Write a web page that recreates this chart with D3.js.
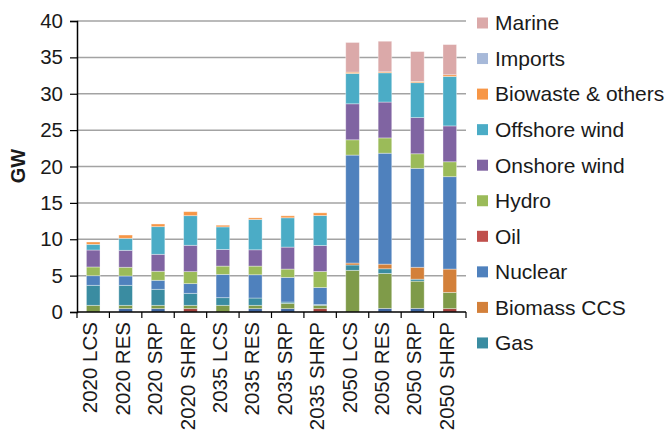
<!DOCTYPE html>
<html lang="en">
  <head>
    <meta charset="UTF-8" />
    <title>GW by scenario</title>
    <script src="https://cdn.jsdelivr.net/npm/d3@7"></script>
    <style>
      body { margin: 0; background: #fff; }
      svg { font-family: "Liberation Sans", Arial, sans-serif; }
    </style>
  </head>
  <body>
    <svg width="670" height="435"></svg>
    <script>
      const categories = ["2020 LCS", "2020 RES", "2020 SRP", "2020 SHRP", "2035 LCS", "2035 RES",
        "2035 SRP", "2035 SHRP", "2050 LCS", "2050 RES", "2050 SRP", "2050 SHRP"];

      // stacked bottom -> top
      const coalCCS = [0, 0, 0, 0.46, 0, 0, 0, 0.46, 0, 0, 0, 0.46];
      const coal = [0, 0.46, 0.46, 0, 0, 0.46, 0.46, 0, 0, 0.5, 0.5, 0];
      const gasCCS = [0.92, 0.46, 0.46, 0.46, 0.92, 0.46, 0.73, 0.46, 5.73, 4.8, 3.74, 2.24];
      const gas = [2.75, 2.75, 2.2, 1.65, 1.05, 1.0, 0.18, 0.1, 0.73, 0.64, 0.27, 0];
      const biomassCCS = [0, 0, 0, 0, 0, 0, 0, 0, 0.27, 0.64, 1.64, 3.2];
      const nuclear = [1.32, 1.28, 1.24, 1.33, 3.2, 3.2, 3.39, 2.35, 14.84, 15.25, 13.6, 12.7];
      const oil = [0, 0, 0, 0, 0, 0, 0, 0, 0, 0, 0, 0];
      const hydro = [1.2, 1.2, 1.24, 1.65, 1.14, 1.19, 1.14, 2.2, 2.1, 2.1, 2.0, 2.05];
      const onshoreWind = [2.33, 2.33, 2.33, 3.62, 2.29, 2.24, 3.02, 3.57, 4.95, 4.93, 4.97, 4.93];
      const offshoreWind = [0.78, 1.65, 3.8, 4.07, 3.1, 4.17, 4.03, 4.12, 4.17, 4.02, 4.8, 6.8];
      const biowaste = [0.32, 0.45, 0.37, 0.55, 0.23, 0.22, 0.27, 0.37, 0.18, 0.14, 0.18, 0.23];
      const imports = [0, 0, 0, 0, 0, 0, 0, 0, 0, 0, 0, 0];
      const marine = [0, 0, 0, 0, 0, 0, 0, 0, 4.08, 4.2, 4.1, 4.15];

      const yTicks = [0, 5, 10, 15, 20, 25, 30, 35, 40];

      const series = [
        { key: "Coal CCS", values: coalCCS, color: "#a03d3a", legend: false },
        { key: "Coal", values: coal, color: "#3c64a0", legend: false },
        { key: "Gas CCS", values: gasCCS, color: "#7f9b49", legend: false },
        { key: "Gas", values: gas, color: "#3a8ca1", legend: true },
        { key: "Biomass CCS", values: biomassCCS, color: "#d3803a", legend: true },
        { key: "Nuclear", values: nuclear, color: "#4f81bd", legend: true },
        { key: "Oil", values: oil, color: "#c0504d", legend: true },
        { key: "Hydro", values: hydro, color: "#9bbb59", legend: true },
        { key: "Onshore wind", values: onshoreWind, color: "#8064a2", legend: true },
        { key: "Offshore wind", values: offshoreWind, color: "#4bacc6", legend: true },
        { key: "Biowaste & others", values: biowaste, color: "#f79646", legend: true },
        { key: "Imports", values: imports, color: "#a7b9d9", legend: true },
        { key: "Marine", values: marine, color: "#dba9a9", legend: true },
      ];

      const rows = categories.map((c, i) => {
        const r = { cat: c };
        series.forEach((s) => (r[s.key] = s.values[i]));
        return r;
      });
      const stacked = d3.stack().keys(series.map((s) => s.key))(rows);

      const svg = d3.select("svg");
      const plotLeft = 77, plotRight = 466, plotTop = 21, plotBottom = 312;
      const fontSize = "20.5px";

      const x = d3.scaleBand().domain(categories).range([plotLeft, plotRight]);
      const y = d3.scaleLinear().domain([0, 40]).range([plotBottom, plotTop]);
      const barW = x.bandwidth() * 0.42;

      // gridlines
      svg.append("g")
        .selectAll("line")
        .data(yTicks.filter((t) => t > 0))
        .enter()
        .append("line")
        .attr("x1", plotLeft)
        .attr("x2", plotRight)
        .attr("y1", (d) => y(d))
        .attr("y2", (d) => y(d))
        .attr("stroke", "#a3a3a3")
        .attr("stroke-width", 1.5);

      // bars
      svg.append("g")
        .selectAll("g")
        .data(stacked)
        .enter()
        .append("g")
        .attr("fill", (d, i) => series[i].color)
        .selectAll("rect")
        .data((d) => d.filter((p) => p[1] - p[0] > 0))
        .enter()
        .append("rect")
        .attr("x", (d) => x(d.data.cat) + (x.bandwidth() - barW) / 2)
        .attr("width", barW)
        .attr("y", (d) => y(d[1]))
        .attr("height", (d) => y(d[0]) - y(d[1]))
        .attr("stroke", "rgba(255,255,255,0.45)")
        .attr("stroke-width", 0.8);

      // y axis
      const yAxis = svg.append("g")
        .attr("transform", `translate(${plotLeft},0)`)
        .call(d3.axisLeft(y).tickValues(yTicks).tickSize(7).tickPadding(7));
      yAxis.select(".domain").attr("stroke", "#000").attr("stroke-width", 1.5);
      yAxis.selectAll(".tick line").attr("stroke", "#000").attr("stroke-width", 1.2);
      yAxis.selectAll("text").attr("font-size", fontSize).attr("fill", "#1a1a1a")
        .attr("font-family", "Liberation Sans, Arial, sans-serif");

      // x axis
      svg.append("line")
        .attr("x1", plotLeft).attr("x2", plotRight)
        .attr("y1", plotBottom).attr("y2", plotBottom)
        .attr("stroke", "#000").attr("stroke-width", 1.5);
      svg.append("g")
        .selectAll("line")
        .data(categories.concat(["end"]))
        .enter()
        .append("line")
        .attr("x1", (d, i) => plotLeft + i * x.step())
        .attr("x2", (d, i) => plotLeft + i * x.step())
        .attr("y1", plotBottom)
        .attr("y2", plotBottom + 6)
        .attr("stroke", "#000")
        .attr("stroke-width", 1.2);
      svg.append("g")
        .selectAll("text")
        .data(categories)
        .enter()
        .append("text")
        .attr("transform", (d) => `translate(${x(d) + x.bandwidth() / 2},${plotBottom + 10}) rotate(-90)`)
        .attr("dy", "0.2em")
        .attr("text-anchor", "end")
        .attr("font-size", fontSize)
        .attr("fill", "#1a1a1a")
        .text((d) => d);

      // axis title
      svg.append("text")
        .attr("transform", `translate(18,166) rotate(-90)`)
        .attr("dy", "0.35em")
        .attr("text-anchor", "middle")
        .attr("font-size", "20px")
        .attr("font-weight", "bold")
        .attr("fill", "#1a1a1a")
        .text("GW");

      // legend (reversed, top = last series)
      const legendItems = series.filter((s) => s.legend).reverse();
      const lg = svg.append("g")
        .selectAll("g")
        .data(legendItems)
        .enter()
        .append("g")
        .attr("transform", (d, i) => `translate(477,${23 + i * 35.55})`);
      lg.append("rect")
        .attr("x", 0).attr("y", -5.5)
        .attr("width", 11).attr("height", 11)
        .attr("fill", (d) => d.color);
      lg.append("text")
        .attr("x", 18)
        .attr("dy", "0.35em")
        .attr("font-size", "21px")
        .attr("fill", "#1a1a1a")
        .text((d) => d.key);
    </script>
  </body>
</html>
